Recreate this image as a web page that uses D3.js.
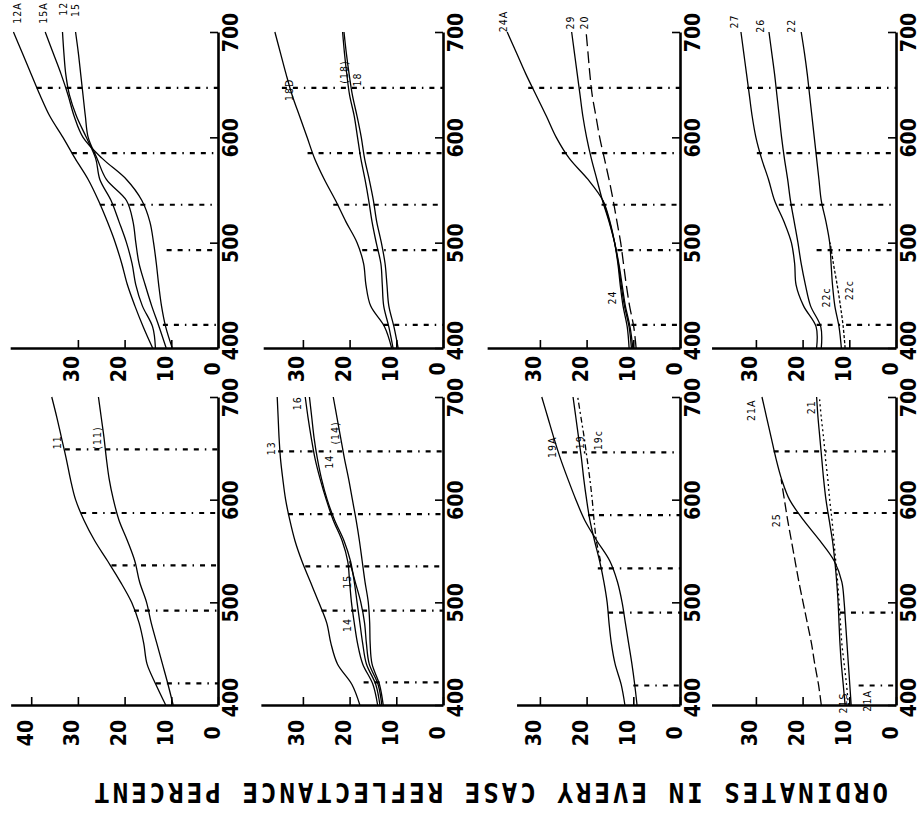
<!DOCTYPE html>
<html>
<head>
<meta charset="utf-8">
<script src="https://cdn.jsdelivr.net/npm/d3@7"></script>
<style>
body { margin: 0; background: #fff; }
svg { display: block; }
</style>
</head>
<body>
<svg></svg>
<script>
// wavelength samples in nm, shared by every curve
const wavelengths = [400, 420, 440, 460, 480, 500, 520, 540, 560, 580, 600, 620, 640, 660, 680, 700];

// reflectance in percent, one array per curve (null = curve not drawn there)
const c12A = [14.0, 16.0, 17.8, 19.4, 20.6, 22.0, 23.7, 25.6, 27.8, 30.6, 33.2, 36.0, 38.1, 40.0, 41.9, 43.8];
const c15A = [9.8, 11.2, 12.1, 12.7, 13.2, 13.8, 14.6, 16.3, 19.6, 24.8, 28.9, 30.8, 32.1, 33.6, 35.3, 37.0];
const c12 = [13.4, 14.0, 16.2, 17.6, 18.4, 19.6, 21.2, 22.9, 25.3, 26.2, 28.2, 30.3, 31.8, 32.6, 33.0, 33.3];
const c15 = [11.1, 12.6, 14.2, 15.6, 16.9, 17.6, 18.2, 19.6, 23.9, 25.9, 27.8, 28.4, 28.9, 29.4, 29.9, 30.5];

const c18D = [11.0, 12.5, 15.5, 16.5, 17.0, 18.4, 20.8, 23.0, 25.4, 27.5, 29.1, 30.7, 32.3, 33.6, 34.8, 36.0];
const c18p = [10.7, 11.6, 12.7, 13.0, 13.3, 14.3, 15.2, 15.9, 16.7, 17.6, 18.3, 19.0, 20.0, 20.6, 21.1, 21.5];
const c18 = [9.6, 10.5, 11.6, 12.0, 12.4, 13.2, 14.2, 14.9, 15.8, 16.8, 17.5, 18.4, 19.4, 20.1, 20.7, 21.2];

const c24A = [10.9, 11.3, 12.2, 12.8, 13.3, 14.0, 15.0, 16.5, 19.7, 23.7, 26.5, 28.6, 30.8, 33.0, 35.0, 37.0];
const c29 = [10.1, 10.7, 11.7, 12.4, 13.1, 14.0, 15.2, 16.6, 17.8, 19.0, 20.0, 20.8, 21.4, 22.0, 22.6, 23.2];
const c20 = [9.4, 9.9, 10.8, 11.5, 12.1, 12.7, 13.5, 14.3, 15.2, 16.2, 17.2, 18.0, 18.8, 19.3, 19.7, 20.1];
const c24 = [10.4, 10.9, 11.9, 12.6, 13.2, 14.0, 15.1, 16.5, null, null, null, null, null, null, null, null];

const c27 = [17.0, 17.1, 19.8, 21.4, 21.7, 22.4, 24.0, 26.0, 27.3, 28.8, 30.0, 30.8, 31.4, 32.0, 32.6, 33.2];
const c26 = [16.0, 16.1, 18.3, 19.4, 20.3, 21.0, 21.8, 22.6, 23.2, 23.9, 24.5, 25.0, 25.5, 26.0, 26.6, 27.2];
const c22 = [11.7, 12.2, 13.1, 13.6, 13.9, 14.2, 15.0, 16.0, 16.5, 17.0, 17.5, 18.0, 18.5, 19.0, 19.6, 20.3];
const c22c = [10.9, 11.3, 11.9, 12.6, 13.4, 14.1, null, null, null, null, null, null, null, null, null, null];

const c11 = [11.2, 13.3, 15.2, 15.9, 16.9, 18.5, 20.9, 23.6, 26.4, 28.7, 30.5, 31.6, 32.5, 33.5, 34.5, 35.6];
const c11p = [9.6, 10.7, 11.9, 13.1, 14.3, 15.3, 16.8, 17.8, 19.4, 21.2, 22.4, 23.3, 23.9, 24.4, 25.0, 25.6];

const c13 = [17.8, 19.5, 22.6, 24.0, 24.9, 26.6, 28.4, 30.2, 31.7, 32.8, 33.7, 34.3, 34.8, 35.1, 35.3, 35.5];
const c16 = [14.0, 15.0, 17.2, 18.3, 19.0, 19.6, 20.0, 20.4, 21.6, 23.5, 25.0, 26.3, 27.4, 28.2, 28.9, 29.5];
const c14 = [13.5, 14.4, 16.4, 17.2, 17.8, 18.4, 19.0, 19.8, 21.2, 23.2, 24.8, 26.0, 26.9, 27.6, 28.1, 28.6];
const c15b = [13.1, 13.9, 15.8, 16.4, 16.8, 17.6, 18.8, 20.0, null, null, null, null, null, null, null, null];
const c14p = [12.8, 13.6, 15.2, 15.6, 15.7, 16.0, 16.7, 17.3, 17.9, 18.6, 19.4, 20.2, 21.1, 21.9, 22.7, 23.5];

const c19A = [9.2, 9.7, 10.3, 11.0, 11.7, 12.4, 13.4, 15.0, 17.8, 20.4, 22.3, 24.0, 25.6, 27.0, 28.3, 29.6];
const c19 = [11.8, 12.6, 13.9, 14.7, 15.2, 15.6, 16.3, 17.2, 18.3, 19.3, 20.0, 20.6, 21.1, 21.7, 22.3, 22.9];
const c19c = [null, null, null, null, null, null, null, 17.0, 17.9, 18.4, 18.8, 19.3, 19.9, 20.5, 21.2, 21.9];

const c21A = [9.6, 9.9, 10.2, 10.5, 10.8, 11.1, 11.6, 13.2, 16.3, 19.8, 22.8, 24.5, 25.7, 26.7, 27.7, 28.7];
const c25 = [16.0, 16.6, 17.4, 18.1, 19.0, 19.9, 20.8, 21.6, 22.4, 23.2, 23.9, 24.6, null, null, null, null];
const c21 = [10.9, 11.3, 11.7, 12.0, 12.2, 12.4, 12.7, 13.1, 13.6, 14.3, 15.0, 15.5, 15.9, 16.3, 16.7, 17.0];
const c21S = [10.2, 10.6, 11.1, 11.6, 11.9, 12.2, 12.5, 12.9, 13.3, 13.7, 14.2, 14.6, 15.1, 15.5, 16.0, 16.4];

// curve names written on the chart: [text, wavelength, reflectance]
const labels1 = [["12A", 718, 43], ["15A", 718, 37.5], ["12", 722, 33.2], ["15", 721, 30.6]];
const labels2 = [["18D", 645, 33], ["(18)", 662, 21.2], ["18", 655, 18.4]];
const labels3 = [["24A", 710, 38], ["29", 709, 23.6], ["20", 709, 20.6], ["24", 448, 14.5]];
const labels4 = [["27", 710, 34.7], ["26", 706, 29.1], ["22", 706, 22.5], ["22c", 448, 15], ["22c", 455, 10]];
const labels5 = [["11", 656, 34.5], ["(11)", 660, 25.9]];
const labels6 = [["13", 650, 36.8], ["16", 694, 31.3], ["14", 637, 24.4], ["(14)", 665, 23.1], ["15", 520, 20.6], ["14", 478, 20.6]];
const labels7 = [["19A", 651, 27.4], ["19", 656, 21.4], ["19c", 658, 17.6]];
const labels8 = [["21A", 687, 31], ["21", 690, 18.2], ["25", 580, 25.7], ["21S", 402, 11.3], ["21A", 404, 6.2]];

// dashed reference lines: [wavelength, reflectance where the line starts]
const guides1 = [[422, 11.8], [493, 11], [536, 25.3], [585, 31.3], [647, 38.8]];
const guides2 = [[422, 12.8], [493, 17.3], [536, 23.5], [585, 29], [647, 34.5]];
const guides3 = [[422, 10.4], [493, 13.4], [536, 16.8], [585, 25.3], [647, 32.5]];
const guides4 = [[422, 17], [493, 17], [536, 25.1], [585, 29.8], [647, 31.9]];
const guides5 = [[421, 13.3], [492, 18], [536, 22.8], [587, 29.3], [649, 32.8]];
const guides6 = [[422, 17], [492, 26], [535, 29.5], [586, 33.2], [647, 35.3]];
const guides7 = [[419, 10], [490, 15.4], [533, 17.6], [585, 19.7], [646, 25.3]];
const guides8 = [[419, 8], [490, 12], [587, 22], [647, 26.2]];

// tick labels
const waveTicks = [400, 500, 600, 700];
const reflTicks3 = [0, 10, 20, 30];
const reflTicks4 = [0, 10, 20, 30, 40];

const caption = "ORDINATES IN EVERY CASE REFLECTANCE PERCENT";

// panel table built from the arrays above
const panels = [
    { series: [["12A", c12A], ["15A", c15A], ["12", c12], ["15", c15]], labels: labels1, guides: guides1, ticks: reflTicks3 },
    { series: [["18D", c18D], ["(18)", c18p], ["18", c18]], labels: labels2, guides: guides2, ticks: reflTicks3 },
    { series: [["24A", c24A], ["29", c29], ["20", c20], ["24", c24]], labels: labels3, guides: guides3, ticks: reflTicks3 },
    { series: [["27", c27], ["26", c26], ["22", c22], ["22c", c22c]], labels: labels4, guides: guides4, ticks: reflTicks3 },
    { series: [["11", c11], ["(11)", c11p]], labels: labels5, guides: guides5, ticks: reflTicks4 },
    { series: [["13", c13], ["16", c16], ["14", c14], ["15", c15b], ["(14)", c14p]], labels: labels6, guides: guides6, ticks: reflTicks3 },
    { series: [["19A", c19A], ["19", c19], ["19c", c19c]], labels: labels7, guides: guides7, ticks: reflTicks3 },
    { series: [["21A", c21A], ["25", c25], ["21", c21], ["21S", c21S]], labels: labels8, guides: guides8, ticks: reflTicks3 }
];

// layout
var svgWidth = 923, svgHeight = 825;
var colX = [218, 443, 680, 896];          // x of the wavelength axis of each column
var rowBase = [348, 705], rowTop = [32, 397];
var pxPerUnit = 4.67;                       // px per 1 % reflectance
var reach = [44.5, 38.5, 41.3, 39.5, 44.4, 39, 35, 39.5];
var labelDrop = [21, 28];
var lineDash = { "19c": "6,3,2,3", "20": "12,5", "25": "10,4", "21S": "2,3", "22c": "3,2" };

var font = "'Liberation Sans Narrow','DejaVu Sans Condensed',sans-serif";

var svg = d3.select("svg")
    .attr("width", svgWidth)
    .attr("height", svgHeight);

panels.forEach((p, i) => {
    var row = i < 4 ? 0 : 1;
    var ax = colX[i % 4];

    var y = d3.scaleLinear().domain([400, 700]).range([rowBase[row], rowTop[row]]);
    var x = d3.scaleLinear().domain([0, reach[i]]).range([ax, ax - reach[i] * pxPerUnit]);

    var g = svg.append("g");

    //dashed guide lines
    g.selectAll(".guide")
        .data(p.guides)
        .enter()
        .append("line")
        .attr("x1", d => x(d[1]))
        .attr("x2", x(0))
        .attr("y1", d => y(d[0]))
        .attr("y2", d => y(d[0]))
        .attr("stroke", "#000")
        .attr("stroke-width", 2.2)
        .attr("stroke-dasharray", "5,6,5,6,1.5,6");

    //curves
    var line = d3.line()
        .defined(d => d[1] != null)
        .x(d => x(d[1]))
        .y(d => y(d[0]))
        .curve(d3.curveCatmullRom);

    g.selectAll(".curve")
        .data(p.series)
        .enter()
        .append("path")
        .attr("fill", "none")
        .attr("stroke", "#000")
        .attr("stroke-width", 1.3)
        .attr("stroke-dasharray", d => lineDash[d[0]] || null)
        .attr("d", d => line(wavelengths.map((w, k) => [w, d[1][k]])));

    //wavelength axis
    var wAxis = d3.axisRight(y)
        .tickValues(waveTicks)
        .tickSizeInner(-8)
        .tickSizeOuter(0)
        .tickFormat(d3.format("d"));

    var wg = g.append("g")
        .attr("transform", "translate(" + ax + ",0)")
        .call(wAxis);

    wg.selectAll(".tick text")
        .attr("x", null)
        .attr("dy", null)
        .attr("text-anchor", "middle")
        .attr("dominant-baseline", "central")
        .attr("transform", d => "translate(13," + (d === 400 ? -8 : 0) + ") rotate(-90)");

    //reflectance axis
    var rAxis = d3.axisBottom(x)
        .tickValues(p.ticks)
        .tickSizeInner(-8)
        .tickSizeOuter(0);

    var rg = g.append("g")
        .attr("transform", "translate(0," + rowBase[row] + ")")
        .call(rAxis);

    rg.selectAll(".tick text")
        .attr("y", null)
        .attr("dy", null)
        .attr("text-anchor", "middle")
        .attr("dominant-baseline", "central")
        .attr("transform", "translate(-6," + labelDrop[row] + ") rotate(-90)");

    g.selectAll(".domain")
        .attr("stroke-width", 2.6);
    g.selectAll(".tick line")
        .attr("stroke-width", 1.6);
    g.selectAll(".tick text")
        .attr("font-size", 21)
        .attr("font-weight", "bold")
        .attr("font-family", font)
        .attr("fill", "#000");

    //curve names
    g.selectAll(".name")
        .data(p.labels)
        .enter()
        .append("text")
        .attr("transform", d => "translate(" + x(d[2]) + "," + y(d[1]) + ") rotate(-90)")
        .attr("text-anchor", "middle")
        .attr("dominant-baseline", "central")
        .attr("font-size", 10.5)
        .attr("letter-spacing", 1)
        .attr("font-family", "'DejaVu Sans Condensed',sans-serif")
        .text(d => d[0]);
});

// caption, upside down as on the scan
svg.append("text")
    .attr("transform", "translate(491,792) rotate(180)")
    .attr("text-anchor", "middle")
    .attr("dominant-baseline", "central")
    .attr("font-family", "'DejaVu Sans Mono',monospace")
    .attr("font-weight", "bold")
    .attr("font-size", 26)
    .attr("textLength", 794)
    .attr("lengthAdjust", "spacing")
    .text(caption);
</script>
</body>
</html>
